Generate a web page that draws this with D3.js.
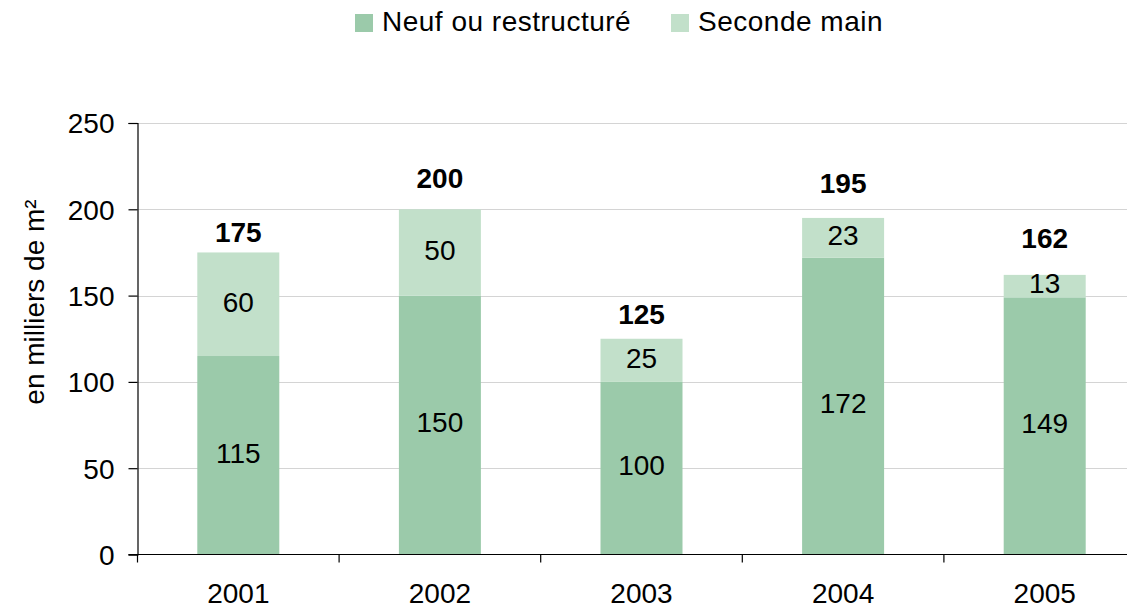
<!DOCTYPE html>
<html>
<head>
<meta charset="utf-8">
<script src="https://cdn.jsdelivr.net/npm/d3@7"></script>
<style>
  body { margin: 0; background: #fff; }
  svg { display: block; font-family: "Liberation Sans", Arial, sans-serif; }
</style>
</head>
<body>
<script>
var years = ["2001", "2002", "2003", "2004", "2005"];
var neuf = [115, 150, 100, 172, 149];
var seconde = [60, 50, 25, 23, 13];
var totals = [175, 200, 125, 195, 162];
var yTicks = [0, 50, 100, 150, 200, 250];
var seriesNames = ["Neuf ou restructuré", "Seconde main"];
var colors = ["#9bcaaa", "#c2e0ca"];
// how far each total label sits above its bar (px)
var totalLift = [10, 21, 15, 25, 27];

var W = 1127, H = 609;
var left = 137.5, zeroY = 554.5, topY = 123;
var fontSize = 28;

var svg = d3.select("body").append("svg")
    .attr("width", W)
    .attr("height", H);

var x = d3.scaleBand().domain(years).range([left, left + 5 * 201.6]).paddingInner(0).paddingOuter(0);
var y = d3.scaleLinear().domain([0, 250]).range([zeroY, topY]);
var barW = 82;

// gridlines
svg.append("g").selectAll("line")
  .data(yTicks.filter(function(d) { return d > 0; }))
  .enter().append("line")
  .attr("x1", left).attr("x2", W)
  .attr("y1", function(d) { return Math.round(y(d)) + 0.5; })
  .attr("y2", function(d) { return Math.round(y(d)) + 0.5; })
  .attr("stroke", "#d4d4d4").attr("stroke-width", 1.2);

var stack = years.map(function(yr, i) {
  return {year: yr, neuf: neuf[i], seconde: seconde[i], total: totals[i], lift: totalLift[i]};
});

var g = svg.append("g");
stack.forEach(function(d) {
  var cx = x(d.year) + x.bandwidth() / 2;
  g.append("rect")
    .attr("x", cx - barW / 2).attr("width", barW)
    .attr("y", y(d.neuf)).attr("height", y(0) - y(d.neuf))
    .attr("fill", colors[0]);
  g.append("rect")
    .attr("x", cx - barW / 2).attr("width", barW)
    .attr("y", y(d.neuf + d.seconde)).attr("height", y(d.neuf) - y(d.neuf + d.seconde))
    .attr("fill", colors[1]);
  g.append("text")
    .attr("x", cx).attr("y", (y(0) + y(d.neuf)) / 2)
    .attr("dy", "0.26em").attr("text-anchor", "middle")
    .attr("font-size", fontSize).attr("fill", "#000")
    .text(d.neuf);
  g.append("text")
    .attr("x", cx).attr("y", (y(d.neuf) + y(d.neuf + d.seconde)) / 2)
    .attr("dy", "0.26em").attr("text-anchor", "middle")
    .attr("font-size", fontSize).attr("fill", "#000")
    .text(d.seconde);
  g.append("text")
    .attr("x", cx).attr("y", y(d.neuf + d.seconde) - d.lift)
    .attr("text-anchor", "middle")
    .attr("font-size", fontSize).attr("font-weight", "bold").attr("fill", "#000")
    .text(d.total);
});

// y axis
var yAxis = svg.append("g")
  .attr("transform", "translate(" + left + ",0)")
  .call(d3.axisLeft(y).tickValues(yTicks).tickSize(9).tickPadding(14));
yAxis.select(".domain").attr("stroke", "#000").attr("stroke-width", 1.2);
yAxis.selectAll(".tick line").attr("stroke", "#000").attr("stroke-width", 1.2);
yAxis.selectAll("text").attr("font-size", fontSize).attr("font-family", "Liberation Sans, Arial, sans-serif")
  .attr("fill", "#000").attr("dy", "0.35em");

// x axis
var xAxis = svg.append("g")
  .attr("transform", "translate(0," + zeroY + ")")
  .call(d3.axisBottom(x).tickSize(0).tickPadding(29));
xAxis.select(".domain").remove();
xAxis.selectAll("text").attr("font-size", fontSize).attr("font-family", "Liberation Sans, Arial, sans-serif").attr("fill", "#000");
svg.append("line")
  .attr("x1", left - 9).attr("x2", W).attr("y1", zeroY).attr("y2", zeroY)
  .attr("stroke", "#000").attr("stroke-width", 1.2);
svg.append("g").selectAll("line")
  .data(years)
  .enter().append("line")
  .attr("x1", function(d) { return x(d); })
  .attr("x2", function(d) { return x(d); })
  .attr("y1", zeroY).attr("y2", zeroY + 8)
  .attr("stroke", "#000").attr("stroke-width", 1.2);

// y axis title
svg.append("text")
  .attr("transform", "translate(44,302) rotate(-90)")
  .attr("text-anchor", "middle")
  .attr("font-size", fontSize).attr("fill", "#000")
  .text("en milliers de m²");

// legend
var legendPos = [355, 671];
var legend = svg.append("g");
seriesNames.forEach(function(name, i) {
  legend.append("rect")
    .attr("x", legendPos[i]).attr("y", 14).attr("width", 18).attr("height", 18)
    .attr("fill", colors[i]);
  legend.append("text")
    .attr("x", legendPos[i] + 27).attr("y", 31)
    .attr("font-size", fontSize).attr("letter-spacing", 0.5).attr("fill", "#000")
    .text(name);
});
</script>
</body>
</html>
